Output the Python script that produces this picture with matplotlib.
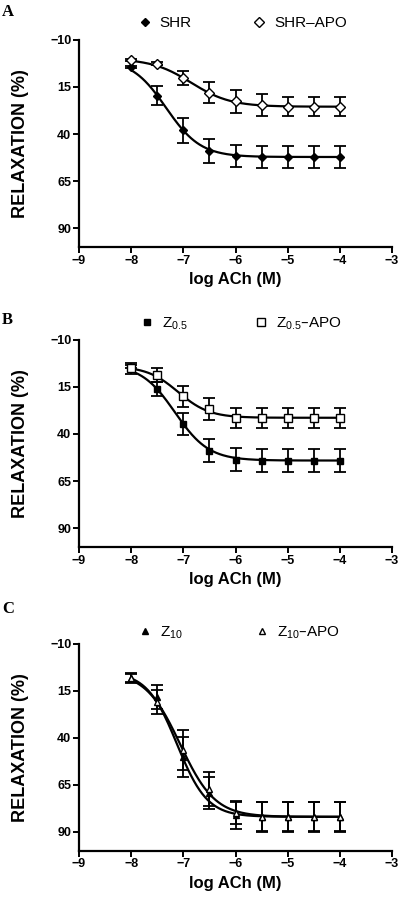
import numpy as np
import matplotlib
matplotlib.use("Agg")
import matplotlib.pyplot as plt
from matplotlib.lines import Line2D

plt.rcParams['font.family'] = ['Liberation Sans', 'DejaVu Sans']
plt.rcParams['mathtext.default'] = 'regular'

# log [ACh] (M)
log_ach = [-8, -7.5, -7, -6.5, -6, -5.5, -5, -4.5, -4]

# panel A
shr = [4.2, 19.6, 38.1, 48.9, 51.6, 52.1, 52.1, 52.1, 52.1]
shr_err = [0.5, 4.9, 6.7, 6.3, 5.8, 5.7, 5.7, 5.7, 5.7]
shr_apo = [0.6, 2.6, 10.4, 18.1, 22.7, 24.7, 25.4, 25.4, 25.4]
shr_apo_err = [0.4, 0.8, 3.7, 5.5, 5.9, 5.7, 5.0, 5.0, 5.0]

# panel B
z05 = [4.2, 16.2, 34.6, 48.8, 53.7, 54.1, 54.1, 54.1, 54.1]
z05_err = [1.0, 3.9, 5.7, 5.9, 6.2, 6.3, 6.3, 6.3, 6.3]
z05_apo = [5.2, 8.8, 20.1, 26.8, 31.4, 31.4, 31.4, 31.4, 31.4]
z05_apo_err = [2.7, 3.8, 5.5, 6.0, 5.2, 5.2, 5.2, 5.2, 5.2]

# panel C
z10 = [8.2, 18.5, 50.4, 69.5, 81.0, 81.9, 81.9, 81.9, 81.9]
z10_err = [2.0, 6.4, 10.6, 8.5, 7.5, 8.0, 8.0, 8.0, 8.0]
z10_apo = [8.2, 21.0, 46.4, 67.0, 80.0, 81.9, 81.9, 81.9, 81.9]
z10_apo_err = [2.7, 6.4, 10.5, 9.0, 6.0, 7.5, 7.5, 7.5, 7.5]

# fitted sigmoid curves: top, bottom, logEC50, hill slope
fit_shr = [0, 52.2, -7.33, 1.31]
fit_shr_apo = [0, 25.5, -6.85, 1.15]
fit_z05 = [3, 54.1, -7.16, 1.34]
fit_z05_apo = [4, 31.4, -7.10, 1.45]
fit_z10 = [5, 82.0, -7.12, 1.5]
fit_z10_apo = [5, 82.0, -7.06, 1.3]

yticks = [-10, 15, 40, 65, 90]
xticks = [-9, -8, -7, -6, -5, -4, -3]


def hill(x, p):
    top, bottom, ec50, h = p
    return top + (bottom - top) / (1 + 10 ** ((ec50 - x) * h))


fig = plt.figure(figsize=(4.0, 8.97), dpi=100)

panels = [
    ("A", 0.7246, [(shr, shr_err, fit_shr, 'D', 'black', 4.5, "SHR"),
                   (shr_apo, shr_apo_err, fit_shr_apo, 'D', 'white', 5.5, "SHR–APO")],
     (0.186, 1.081), 3.9, 0.987),
    ("B", 0.3902, [(z05, z05_err, fit_z05, 's', 'black', 5, "Z$_{0.5}$"),
                   (z05_apo, z05_apo_err, fit_z05_apo, 's', 'white', 5.5, "Z$_{0.5}$–APO")],
     (0.192, 1.076), 4.3, 0.643),
    ("C", 0.0516, [(z10, z10_err, fit_z10, '^', 'black', 4.2, "Z$_{10}$"),
                   (z10_apo, z10_apo_err, fit_z10_apo, '^', 'white', 4.2, "Z$_{10}$–APO")],
     (0.186, 1.053), 4.7, 0.321),
]

xs = np.linspace(-8, -4, 300)

for letter, bottom, series, anchor, colsp, ytxt in panels:
    ax = fig.add_axes([0.1975, bottom, 0.7825, 0.2310])
    handles = []
    for vals, err, fit, mk, fc, ms, lab in series:
        ax.errorbar(log_ach, vals, yerr=err, fmt='none', ecolor='black',
                    elinewidth=1.3, capsize=4.3, capthick=1.3, zorder=2)
        ax.plot(xs, hill(xs, fit), color='black', lw=1.6, zorder=3)
        ax.plot(log_ach, vals, ls='none', marker=mk, ms=ms, mfc=fc,
                mec='black', mew=1.0, zorder=4)
        handles.append(Line2D([], [], ls='none', marker=mk, ms=ms, mfc=fc,
                              mec='black', mew=1.0, label=lab))
    ax.set_xlim(-9, -3)
    ax.set_ylim(100, -10)
    ax.set_xticks(xticks)
    ax.set_yticks(yticks)
    for s in ['top', 'right']:
        ax.spines[s].set_visible(False)
    for s in ['left', 'bottom']:
        ax.spines[s].set_linewidth(1.6)
    ax.tick_params(width=1.4, length=4, labelsize=9, pad=1.5)
    for t in ax.get_xticklabels() + ax.get_yticklabels():
        t.set_fontweight('bold')
    ax.set_xlabel("log ACh (M)", fontsize=12, fontweight='bold', labelpad=4)
    ax.set_ylabel("RELAXATION (%)", fontsize=13, fontweight='bold', labelpad=15)
    ax.legend(handles=handles, ncol=2, loc='center left', bbox_to_anchor=anchor,
              frameon=False, fontsize=11, handlelength=1.0, handletextpad=0.48,
              columnspacing=colsp, borderpad=0, borderaxespad=0)
    fig.text(0.005, ytxt, letter, fontsize=12, fontweight='bold',
             family=['Liberation Serif', 'DejaVu Serif'], va='center')

fig.savefig("out.png", dpi=100)
